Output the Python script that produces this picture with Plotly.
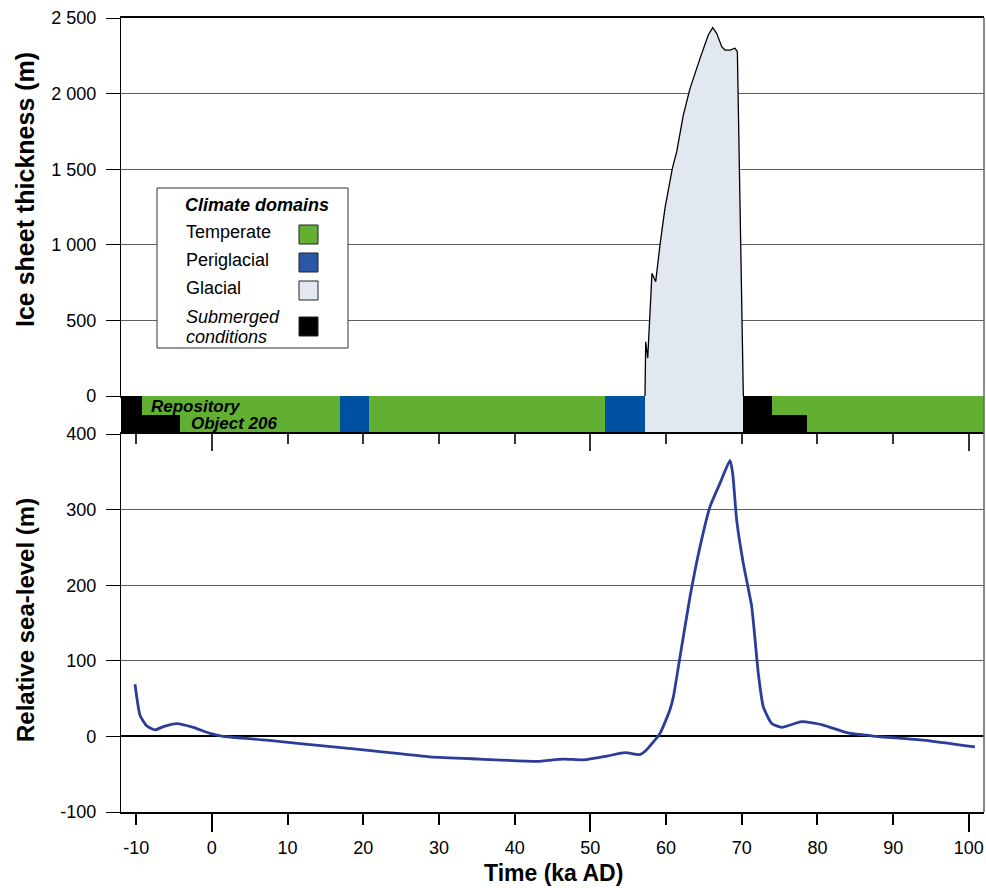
import plotly.graph_objects as go

# ---------------- data ----------------
# Ice sheet thickness (m) vs time (ka AD)
ice_time = [57.22, 57.31, 57.58, 57.79, 58.14, 58.41, 58.63, 59.20, 59.86, 60.83, 61.41,
            62.28, 63.17, 64.49, 65.58, 66.16, 66.69, 67.35, 67.79, 68.45, 69.11, 69.42,
            69.55, 70.00, 70.21]
ice_thickness = [0, 359, 251, 503, 811, 780, 756, 999, 1243, 1506, 1616,
                 1858, 2035, 2233, 2388, 2436, 2399, 2310, 2288, 2288, 2300, 2277,
                 1858, 536, 0]

# Relative sea-level (m) vs time (ka AD)
sl_time = [-10.15, -9.49, -8.61, -7.51, -6.41, -4.64, -2.45, -0.24, 1.51, 7.25, 16.04,
           22.2, 28.8, 35.4, 42.9, 46.4, 49.07, 52.2, 54.6, 56.56, 57.4, 59.2, 60.5,
           60.96, 61.84, 63.17, 64.49, 65.81, 67.13, 68.45, 68.80, 69.33, 70.20, 71.31,
           72.19, 72.85, 73.96, 75.28, 77.92, 80.77, 83.86, 87.38, 93.98, 100.8]
sl_level = [69, 28, 14, 8.5, 13, 17, 12, 4, 0, -5, -14,
            -20, -27, -30, -33, -30, -31, -26, -21.5, -24, -18, 4, 35,
            52, 105, 185, 251, 304, 335, 365, 348, 286, 229, 172,
            83, 39, 17, 12, 19.5, 15, 5, 0.5, -5, -14]

# Climate domain strip: two rows (Repository, Object 206)
rows = ["Object 206", "Repository"]
repo_start = [-12, -9.27, 16.93, 20.76, 51.94, 57.22, 70.17, 74.0]
repo_end = [-9.27, 16.93, 20.76, 51.94, 57.22, 70.17, 74.0, 102]
repo_domain = ["Submerged", "Temperate", "Periglacial", "Temperate", "Periglacial",
               "Glacial", "Submerged", "Temperate"]
obj_start = [-12, -4.21, 16.93, 20.76, 51.94, 57.22, 70.17, 78.63]
obj_end = [-4.21, 16.93, 20.76, 51.94, 57.22, 70.17, 78.63, 102]
obj_domain = ["Submerged", "Temperate", "Periglacial", "Temperate", "Periglacial",
              "Glacial", "Submerged", "Temperate"]

domain_names = ["Temperate", "Periglacial", "Glacial", "Submerged"]
legend_lines = [["Temperate"], ["Periglacial"], ["Glacial"], ["Submerged", "conditions"]]
strip_colors = {"Temperate": "#62b032", "Periglacial": "#0051a2",
                "Glacial": "#e1e8ef", "Submerged": "#000000"}
legend_colors = {"Temperate": "#62b032", "Periglacial": "#2a57a6",
                 "Glacial": "#e1e8ef", "Submerged": "#000000"}

x_ticks = [-10, 0, 10, 20, 30, 40, 50, 60, 70, 80, 90, 100]
x_major = [0, 50, 100]
ice_ticks = [0, 500, 1000, 1500, 2000, 2500]
sl_ticks = [-100, 0, 100, 200, 300, 400]

# ---------------- layout helpers ----------------
W, H = 986, 888
ML, MR, MT, MB = 121, 2, 18, 76
PW, PH = W - ML - MR, H - MT - MB
X_RANGE = [-12, 102]


def px_x(p):
    return (p - ML) / PW


def px_y(p):
    return (H - MB - p) / PH


top_dom = [px_y(396), 1.0]
strip_dom = [px_y(434), px_y(396)]
low_dom = [0.0, px_y(434)]

FONT = "Liberation Sans, Arial, sans-serif"
GRID = "#5e5e5e"

fig = go.Figure()

# Ice sheet
fig.add_trace(go.Scatter(x=ice_time, y=ice_thickness, mode="lines", fill="tozeroy",
                         fillcolor="#e1e8ef", line=dict(color="black", width=1.3),
                         xaxis="x", yaxis="y", hoverinfo="skip"))

# Sea level
fig.add_trace(go.Scatter(x=sl_time, y=sl_level, mode="lines",
                         line=dict(color="#2b3d98", width=2.8, shape="spline", smoothing=0.5),
                         xaxis="x2", yaxis="y2", hoverinfo="skip"))

# Strip bars
for d in domain_names:
    starts, lens, ys = [], [], []
    for s, e, dd in zip(repo_start, repo_end, repo_domain):
        if dd == d:
            starts.append(s); lens.append(e - s); ys.append(1)
    for s, e, dd in zip(obj_start, obj_end, obj_domain):
        if dd == d:
            starts.append(s); lens.append(e - s); ys.append(0)
    fig.add_trace(go.Bar(x=lens, base=starts, y=ys, orientation="h", width=1.0,
                         marker=dict(color=strip_colors[d], line=dict(width=0)),
                         xaxis="x", yaxis="y3", hoverinfo="skip"))

# helpers for overlay tick axes
fig.add_trace(go.Scatter(x=[None], y=[None], xaxis="x3", yaxis="y2", mode="lines", hoverinfo="skip"))
fig.add_trace(go.Scatter(x=[None], y=[None], xaxis="x4", yaxis="y2", mode="lines", hoverinfo="skip"))


def fmt(v):
    return f"{v:,}".replace(",", " ")


tickfont = dict(family=FONT, size=18, color="black")

fig.update_layout(
    width=W, height=H, autosize=False,
    margin=dict(l=ML, r=MR, t=MT, b=MB),
    paper_bgcolor="white", plot_bgcolor="white",
    showlegend=False, barmode="overlay", bargap=0,
    xaxis=dict(domain=[0, 1], anchor="y", range=X_RANGE, showticklabels=False, ticks="",
               showgrid=False, zeroline=False, showline=True, mirror=True,
               linecolor="black", linewidth=1.6),
    yaxis=dict(domain=top_dom, anchor="x", range=[0, 2500], tickvals=ice_ticks,
               ticktext=[fmt(v) for v in ice_ticks], ticks="outside", ticklen=14,
               tickcolor="black", tickwidth=1.2, showline=True, linecolor="black", linewidth=1.4,
               showgrid=True, gridcolor=GRID, gridwidth=1.2, zeroline=False,
               tickfont=tickfont, ticklabelstandoff=6),
    yaxis3=dict(domain=strip_dom, anchor="x", range=[-0.5, 1.5], visible=False, fixedrange=True),
    xaxis2=dict(domain=[0, 1], anchor="y2", range=X_RANGE, tickvals=x_ticks,
                ticktext=[str(v) for v in x_ticks], ticks="outside", ticklen=11,
                tickcolor="black", tickwidth=1.6, showline=True, linecolor="black", linewidth=1.6,
                showgrid=False, zeroline=False, tickfont=tickfont, ticklabelstandoff=8),
    xaxis3=dict(overlaying="x2", anchor="y2", side="top", range=X_RANGE, tickvals=x_major,
                ticks="inside", ticklen=17, tickcolor="#333", tickwidth=1.6,
                minor=dict(tickvals=[v for v in x_ticks if v not in x_major], ticks="inside",
                           ticklen=10, tickcolor="#333", tickwidth=1.6),
                showticklabels=False, showline=True, linecolor="black", linewidth=1.6,
                showgrid=False, zeroline=False),
    xaxis4=dict(overlaying="x2", anchor="y2", side="bottom", range=X_RANGE, tickvals=x_major,
                ticks="outside", ticklen=19, tickcolor="black", tickwidth=1.6,
                showticklabels=False, showline=False, showgrid=False, zeroline=False),
    yaxis2=dict(domain=low_dom, anchor="x2", range=[-100, 400], tickvals=sl_ticks,
                ticktext=[str(v) for v in sl_ticks], ticks="outside", ticklen=14,
                tickcolor="black", tickwidth=1.2, showline=True, linecolor="black", linewidth=1.4,
                showgrid=True, gridcolor=GRID, gridwidth=1.2, zeroline=True,
                zerolinecolor="black", zerolinewidth=2.4, tickfont=tickfont, ticklabelstandoff=6),
)

shapes = []
# right border (grey)
shapes.append(dict(type="line", xref="paper", yref="paper", x0=1, x1=1, y0=0, y1=1,
                   line=dict(color="#6e6e6e", width=1.6)))
# legend box
shapes.append(dict(type="rect", xref="paper", yref="paper",
                   x0=px_x(157), x1=px_x(348), y0=px_y(348), y1=px_y(188),
                   fillcolor="white", line=dict(color="#333", width=1)))
sw_y = [(225, 244), (253, 272), (281, 300), (317, 336)]
for d, (a, b) in zip(domain_names, sw_y):
    shapes.append(dict(type="rect", xref="paper", yref="paper",
                       x0=px_x(299), x1=px_x(318), y0=px_y(b), y1=px_y(a),
                       fillcolor=legend_colors[d], line=dict(color="#222", width=1)))
fig.update_layout(shapes=shapes)

ann = []
ann.append(dict(text="<b>Ice sheet thickness (m)</b>", xref="paper", yref="paper",
                x=px_x(25), y=px_y(190), textangle=-90, showarrow=False,
                font=dict(family=FONT, size=25, color="black"), xanchor="center", yanchor="middle"))
ann.append(dict(text="<b>Relative sea-level (m)</b>", xref="paper", yref="paper",
                x=px_x(25), y=px_y(620), textangle=-90, showarrow=False,
                font=dict(family=FONT, size=24, color="black"), xanchor="center", yanchor="middle"))
ann.append(dict(text="<b>Time (ka AD)</b>", xref="paper", yref="paper",
                x=px_x(553), y=px_y(873), showarrow=False,
                font=dict(family=FONT, size=23, color="black"), xanchor="center", yanchor="middle"))
# strip labels
ann.append(dict(text="<b><i>Repository</i></b>", xref="paper", yref="paper",
                x=px_x(149), y=px_y(406), showarrow=False, xanchor="left", yanchor="middle",
                font=dict(family=FONT, size=17, color="black")))
ann.append(dict(text="<b><i>Object 206</i></b>", xref="paper", yref="paper",
                x=px_x(189), y=px_y(423.5), showarrow=False, xanchor="left", yanchor="middle",
                font=dict(family=FONT, size=17, color="black")))
# legend
ann.append(dict(text="<b><i>Climate domains</i></b>", xref="paper", yref="paper",
                x=px_x(257), y=px_y(205), showarrow=False, xanchor="center", yanchor="middle",
                font=dict(family=FONT, size=18, color="black")))
lab_y = [[232], [260], [288], [317, 337]]
for lines, ys in zip(legend_lines, lab_y):
    for line_txt, yy in zip(lines, ys):
        italic = len(lines) > 1
        txt = f"<i>{line_txt}</i>" if italic else line_txt
        ann.append(dict(text=txt, xref="paper", yref="paper", x=px_x(184), y=px_y(yy),
                        showarrow=False, xanchor="left", yanchor="middle", align="left",
                        font=dict(family=FONT, size=18, color="black")))
fig.update_layout(annotations=ann)

fig.write_html("out.html")
